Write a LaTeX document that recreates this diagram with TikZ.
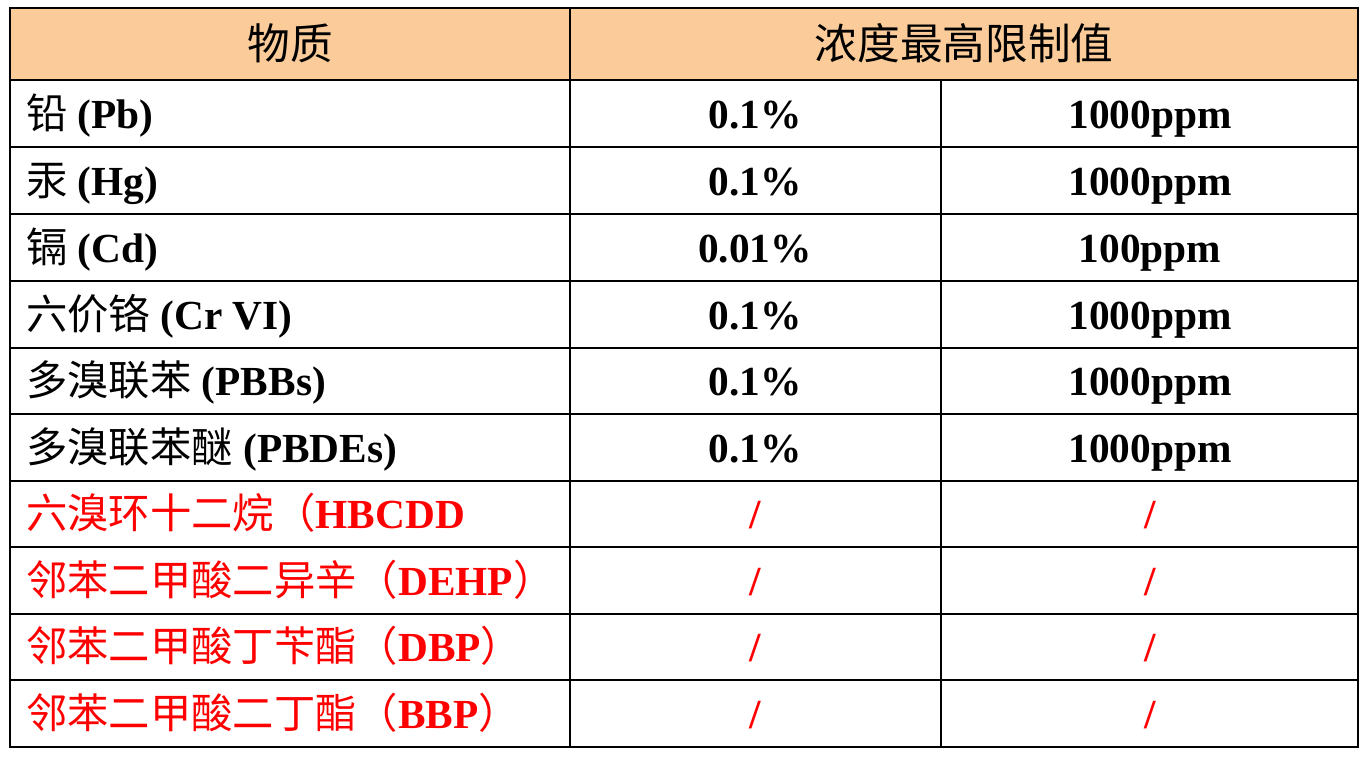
\documentclass[tikz,border=0pt]{standalone}
\usepackage{fontspec}
\setmainfont{Liberation Serif}
\newfontfamily\cjk{Noto Sans CJK SC}
\definecolor{headfill}{HTML}{FBCB9A}
\definecolor{redtext}{HTML}{FF0000}
\newcommand{\zh}[1]{{\cjk\mdseries #1}}
\tikzset{
  grid line/.style={line width=1.4pt, black},
  cell/.style={inner sep=0pt, anchor=base, font=\fontsize{31}{36}\selectfont\bfseries},
  name cell/.style={cell, anchor=base west},
  head cell/.style={inner sep=0pt, font=\fontsize{32}{36}\selectfont\cjk}
}
\begin{document}
\begin{tikzpicture}[x=0.75pt, y=-0.75pt]
\useasboundingbox (0,0) rectangle (1361,765);

% header
\fill[headfill] (10,8) rectangle (1358,80);
\node[head cell] (hsub) at (290,43) {物质};
\node[head cell] (hval) at (964,43) {浓度最高限制值};

% rows
\foreach \n/\y/\col/\name/\pct/\ppm in {
  1/128/black/{\zh{铅} (Pb)}/0.1\%/1000ppm,
  2/195/black/{\zh{汞} (Hg)}/0.1\%/1000ppm,
  3/262/black/{\zh{镉} (Cd)}/0.01\%/100ppm,
  4/329/black/{\zh{六价铬} (Cr VI)}/0.1\%/1000ppm,
  5/395/black/{\zh{多溴联苯} (PBBs)}/0.1\%/1000ppm,
  6/462/black/{\zh{多溴联苯醚} (PBDEs)}/0.1\%/1000ppm,
  7/528/redtext/{\zh{六溴环十二烷（}HBCDD}/\,/\,,
  8/595/redtext/{\zh{邻苯二甲酸二异辛（}DEHP\zh{）}}/\,/\,,
  9/661/redtext/{\zh{邻苯二甲酸丁苄酯（}DBP\zh{）}}/\,/\,,
  10/728/redtext/{\zh{邻苯二甲酸二丁酯（}BBP\zh{）}}/\,/\,}{
  \node[name cell, text=\col] (name\n) at (26,\y) {\name};
  \ifnum\n>6
    \node[cell, text=\col] (pct\n) at (755,\y) {/};
    \node[cell, text=\col] (ppm\n) at (1150,\y) {/};
  \else
    \node[cell, text=\col] (pct\n) at (755,\y) {\pct};
    \node[cell, text=\col] (ppm\n) at (1150,\y) {\ppm};
  \fi
}

% grid
\draw[grid line] (10,8) rectangle (1358,747);
\foreach \y in {80,147,214,281,348,414,481,547,614,680}
  \draw[grid line] (10,\y) -- (1358,\y);
\draw[grid line] (570,8) -- (570,747);
\draw[grid line] (941,80) -- (941,747);
\end{tikzpicture}
\end{document}
